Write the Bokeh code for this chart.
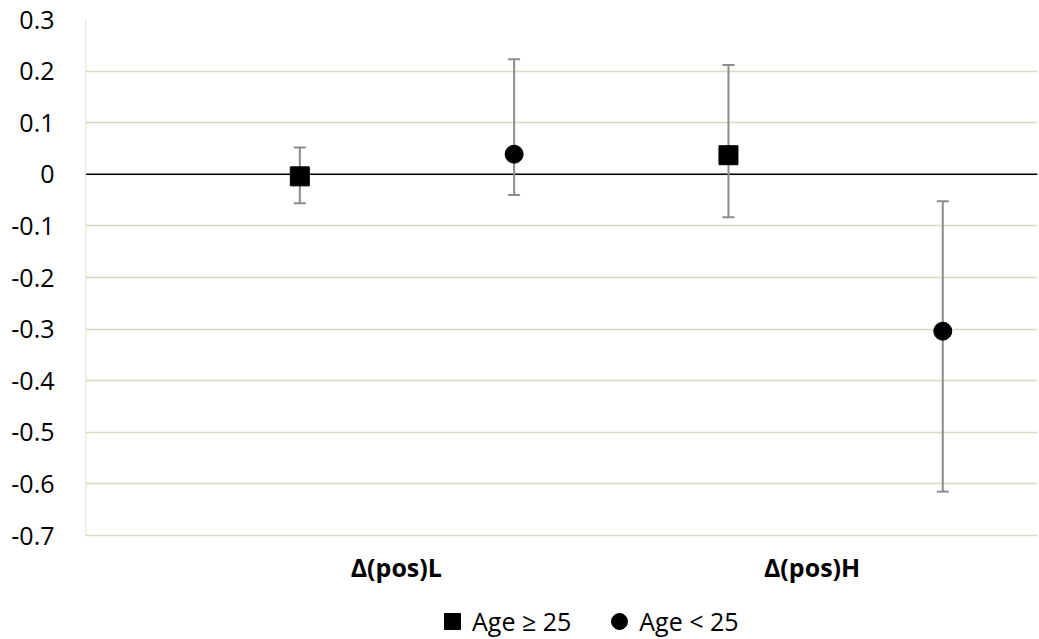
from bokeh.plotting import figure
from bokeh.models import (ColumnDataSource, Whisker, TeeHead, Span, Legend, LegendItem,
                          FixedTicker, Range1d)
from bokeh.core.properties import value
from bokeh.embed import file_html
from bokeh.resources import INLINE

# ---- data ----
categories = ["Δ(pos)L", "Δ(pos)H"]
series_names = ["Age ≥ 25", "Age < 25"]
older_x = [1, 3]
younger_x = [2, 4]
older_mean = [-0.004, 0.037]
older_low = [-0.056, -0.083]
older_high = [0.052, 0.212]
younger_mean = [0.039, -0.304]
younger_low = [-0.040, -0.615]
younger_high = [0.223, -0.052]
y_ticks = [-0.7, -0.6, -0.5, -0.4, -0.3, -0.2, -0.1, 0, 0.1, 0.2, 0.3]
y_tick_labels = ["-0.7", "-0.6", "-0.5", "-0.4", "-0.3", "-0.2", "-0.1", "0", "0.1", "0.2", "0.3"]
category_label_x = [1.45, 3.39]

GRID = "#dcd8c3"
ERR = "#8c8c8c"
FONT = "Open Sans"
FS = "25px"

# frame extends below the value axis to host category labels and legend
y_bottom = max(y_ticks) - 620 / 516.0
p = figure(width=1039, height=639, x_range=Range1d(0, 4.442),
           y_range=Range1d(y_bottom, max(y_ticks)),
           output_backend="svg", toolbar_location=None,
           min_border_left=85, min_border_right=2, min_border_top=19, min_border_bottom=0)
p.outline_line_color = None
p.background_fill_color = "white"
p.xaxis.visible = False

# grid
p.xgrid.visible = False
p.ygrid.ticker = FixedTicker(ticks=y_ticks)
p.ygrid.grid_line_color = GRID
p.ygrid.grid_line_width = 1.5

# y axis
p.yaxis.ticker = FixedTicker(ticks=y_ticks)
p.yaxis.major_label_overrides = {t: l for t, l in zip(y_ticks, y_tick_labels)}
p.yaxis.axis_line_color = None
p.yaxis.major_tick_line_color = None
p.yaxis.minor_tick_line_color = None
p.yaxis.major_label_standoff = 25
p.yaxis.major_label_text_font = FONT
p.yaxis.major_label_text_font_size = FS
p.yaxis.major_label_text_color = "black"

# value-axis line (from lowest to highest tick)
p.segment(x0=[0], y0=[min(y_ticks)], x1=[0], y1=[max(y_ticks)], line_color=GRID,
          line_width=1.5)

# zero line
p.add_layout(Span(location=0, dimension="width", line_color="black", line_width=1.5,
                  level="underlay"))

# category labels
p.text(x=category_label_x, y=[min(y_ticks)] * len(categories), text=categories,
       y_offset=31, text_align="center", text_baseline="middle",
       text_font=value(FONT), text_font_style="bold", text_font_size=FS,
       text_color="black")

# error bars
for xs, lo, hi in [(older_x, older_low, older_high), (younger_x, younger_low, younger_high)]:
    src = ColumnDataSource(dict(x=xs, lo=lo, hi=hi))
    w = Whisker(base="x", lower="lo", upper="hi", source=src, dimension="height",
                line_color=ERR, line_width=2, level="underlay",
                upper_head=TeeHead(size=12, line_color=ERR, line_width=2),
                lower_head=TeeHead(size=12, line_color=ERR, line_width=2))
    p.add_layout(w)

r_old = p.scatter(older_x, older_mean, marker="square", size=19, fill_color="black",
                  line_color="black")
r_young = p.scatter(younger_x, younger_mean, marker="circle", size=18, fill_color="black",
                    line_color="black")

legend = Legend(items=[LegendItem(label=series_names[0], renderers=[r_old]),
                       LegendItem(label=series_names[1], renderers=[r_young])],
                orientation="horizontal", location=(347, -2),
                glyph_width=40, glyph_height=40, label_standoff=0, spacing=28,
                padding=0, margin=0, border_line_color=None, background_fill_alpha=0,
                label_text_font=FONT, label_text_font_size=FS, label_text_color="black")
p.add_layout(legend, "center")

open("out.html", "w").write(file_html(p, INLINE))
